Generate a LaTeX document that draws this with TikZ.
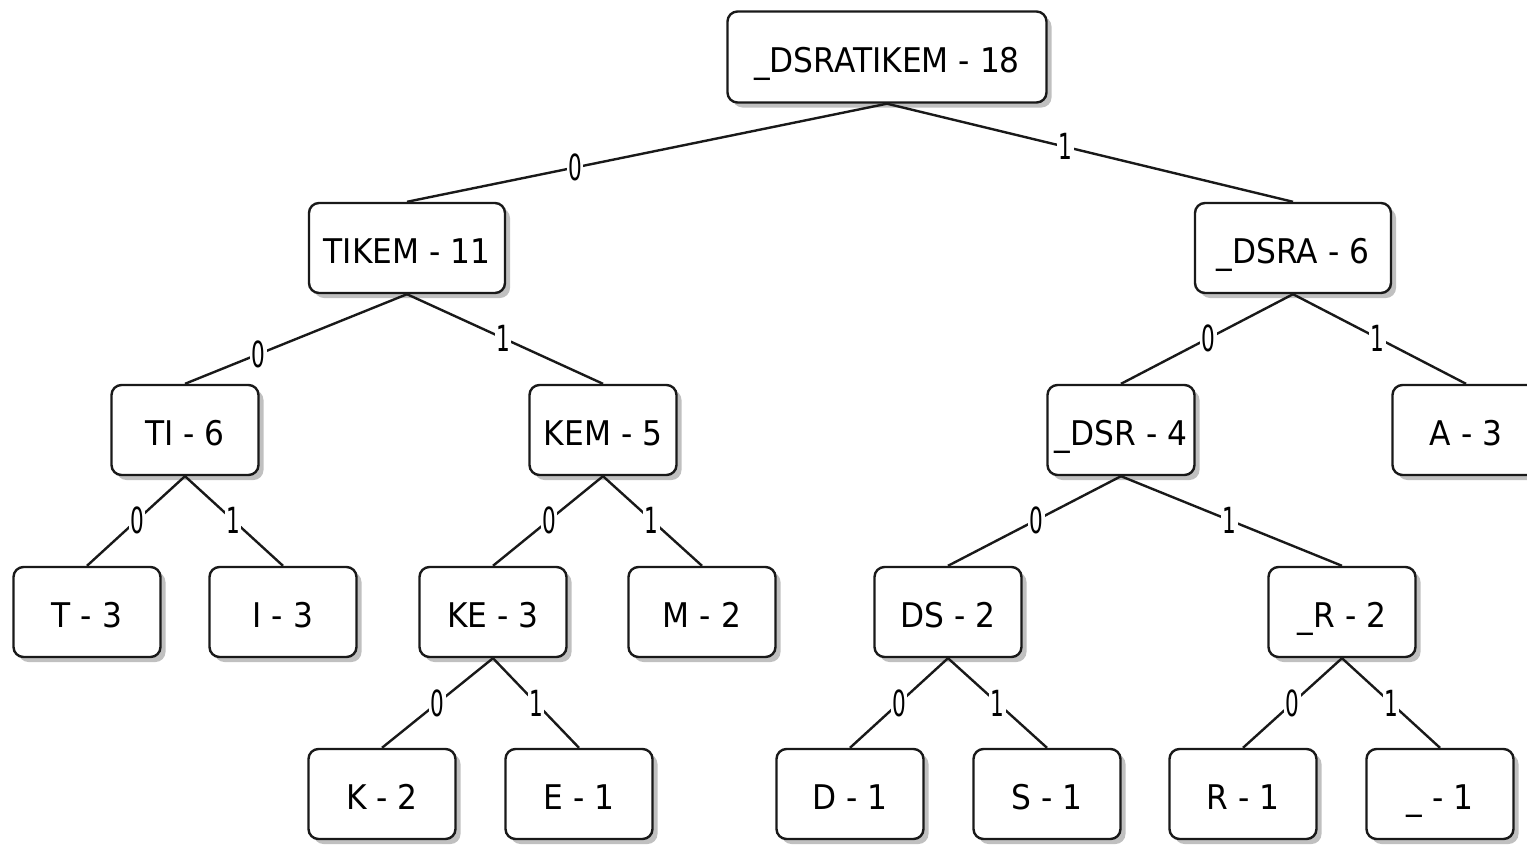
\documentclass[tikz,border=0pt]{standalone}
\usepackage{fontspec}
\setmainfont{DejaVu Sans}[FakeStretch=0.92]
\newfontfamily\lblfont{DejaVu Sans}[FakeStretch=0.6]
\usetikzlibrary{shadows}
\tikzset{
  tbox/.style={draw=black!90, line width=2.4pt, rounded corners=10pt, fill=white,
    minimum height=90pt, minimum width=147pt, inner sep=0pt,
    text height=32pt, text depth=2pt,
    font=\fontsize{34}{38}\selectfont,
    drop shadow={shadow xshift=5pt, shadow yshift=-5pt, fill=black!45, opacity=0.55}},
  widebox/.style={minimum width=196pt},
  tedge/.style={draw=black!90, line width=2.4pt},
  bit/.style={fill=white, inner sep=1.5pt, font=\lblfont\fontsize{36}{40}\selectfont},
}
\begin{document}
\begin{tikzpicture}[x=1pt,y=-1pt]
\useasboundingbox (0,0) rectangle (1527,844);
\clip (0,0) rectangle (1527,844);
\node[tbox, minimum width=319pt, minimum height=91pt] (root) at (887,57) {\_DSRATIKEM - 18};
\node[tbox, widebox] (tikem) at (407,248) {TIKEM - 11};
\node[tbox, widebox] (dsra) at (1293,248) {\_DSRA - 6};
\node[tbox] (ti) at (185,430) {TI - 6};
\node[tbox] (kem) at (603,430) {KEM - 5};
\node[tbox] (dsr) at (1121,430) {\_DSR - 4};
\node[tbox] (a) at (1466,430) {A - 3};
\node[tbox] (t) at (87,612) {T - 3};
\node[tbox] (i) at (283,612) {I - 3};
\node[tbox] (ke) at (493,612) {KE - 3};
\node[tbox] (m) at (702,612) {M - 2};
\node[tbox] (ds) at (948,612) {DS - 2};
\node[tbox] (rr) at (1342,612) {\_R - 2};
\node[tbox] (k) at (382,794) {K - 2};
\node[tbox] (e) at (579,794) {E - 1};
\node[tbox] (d) at (850,794) {D - 1};
\node[tbox] (s) at (1047,794) {S - 1};
\node[tbox] (r) at (1243,794) {R - 1};
\node[tbox] (us) at (1440,794) {\_ - 1};

\draw[tedge] (root.south) -- node[bit, pos=0.65] {0} (tikem.north);
\draw[tedge] (root.south) -- node[bit, pos=0.44] {1} (dsra.north);
\draw[tedge] (tikem.south) -- node[bit, pos=0.67] {0} (ti.north);
\draw[tedge] (tikem.south) -- node[bit, pos=0.49] {1} (kem.north);
\draw[tedge] (dsra.south) -- node[bit, pos=0.49] {0} (dsr.north);
\draw[tedge] (dsra.south) -- node[bit, pos=0.49] {1} (a.north);
\draw[tedge] (ti.south) -- node[bit, pos=0.49] {0} (t.north);
\draw[tedge] (ti.south) -- node[bit, pos=0.49] {1} (i.north);
\draw[tedge] (kem.south) -- node[bit, pos=0.49] {0} (ke.north);
\draw[tedge] (kem.south) -- node[bit, pos=0.49] {1} (m.north);
\draw[tedge] (dsr.south) -- node[bit, pos=0.49] {0} (ds.north);
\draw[tedge] (dsr.south) -- node[bit, pos=0.49] {1} (rr.north);
\draw[tedge] (ke.south) -- node[bit, pos=0.5] {0} (k.north);
\draw[tedge] (ke.south) -- node[bit, pos=0.5] {1} (e.north);
\draw[tedge] (ds.south) -- node[bit, pos=0.5] {0} (d.north);
\draw[tedge] (ds.south) -- node[bit, pos=0.5] {1} (s.north);
\draw[tedge] (rr.south) -- node[bit, pos=0.5] {0} (r.north);
\draw[tedge] (rr.south) -- node[bit, pos=0.5] {1} (us.north);
\end{tikzpicture}
\end{document}
